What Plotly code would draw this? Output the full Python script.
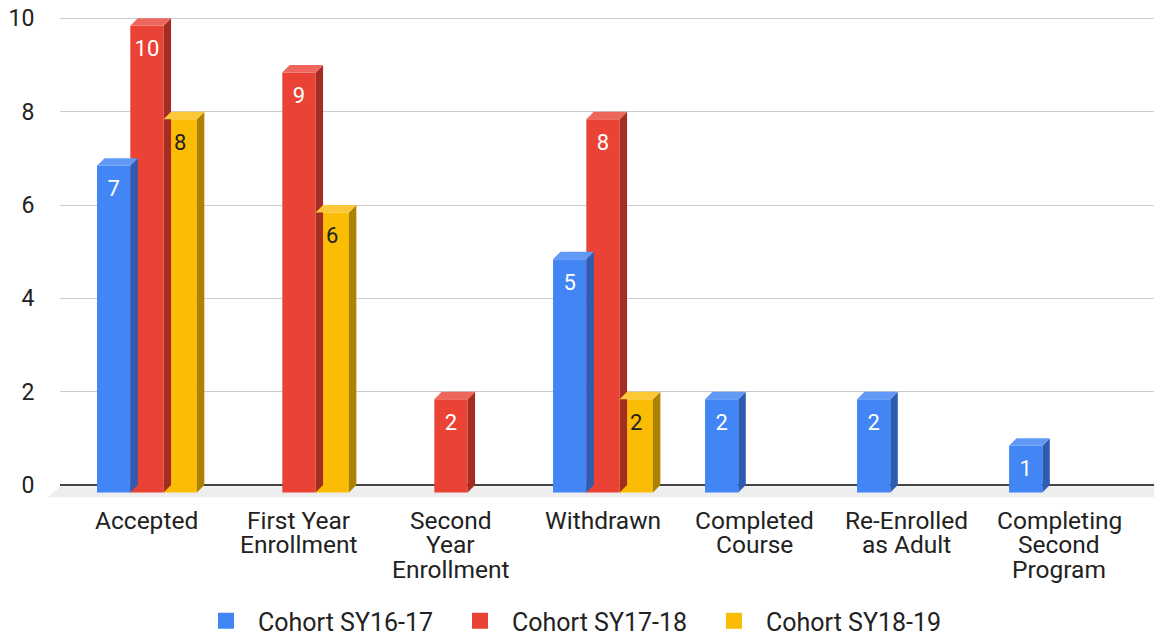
import plotly.graph_objects as go

# ---------------- data ----------------
categories = ["Accepted", "First Year\nEnrollment", "Second\nYear\nEnrollment", "Withdrawn",
              "Completed\nCourse", "Re-Enrolled\nas Adult", "Completing\nSecond\nProgram"]
series_names = ["Cohort SY16-17", "Cohort SY17-18", "Cohort SY18-19"]
sy16_17 = [7, None, None, 5, 2, 2, 1]
sy17_18 = [10, 9, 2, 8, None, None, None]
sy18_19 = [8, 6, None, 2, None, None, None]
y_ticks = [0, 2, 4, 6, 8, 10]

# ---------------- style ----------------
FONT = "Roboto, Arial, sans-serif"
TXT = "#222222"
front_colors = ["#4285F4", "#EA4335", "#FBBC04"]
top_colors = ["#6199F6", "#EE675D", "#FCC838"]
side_colors = ["#2C5DB3", "#A42C23", "#AE8200"]
label_colors = ["#FFFFFF", "#FFFFFF", "#222222"]

BAR_W = 0.219   # bar width in category units
DX = 0.049      # 3D depth (x, category units)
DY = 0.16       # 3D depth (y, value units)
FLOOR = 0.26
LABEL_DROP = 0.535

series_values = [sy16_17, sy17_18, sy18_19]

fig = go.Figure()

# side and top faces
for s, vals in enumerate(series_values):
    sx, sy, tx, ty = [], [], [], []
    for i, v in enumerate(vals):
        if v is None:
            continue
        c = i + (s - 1) * BAR_W
        L, R = c - BAR_W / 2, c + BAR_W / 2
        sx += [R, R + DX, R + DX, R, R, None]
        sy += [-DY, 0, v, v - DY, -DY, None]
        tx += [L, R, R + DX, L + DX, L, None]
        ty += [v - DY, v - DY, v, v, v - DY, None]
    fig.add_trace(go.Scatter(x=sx, y=sy, mode="lines", fill="toself", fillcolor=side_colors[s],
                             line=dict(width=0, color=side_colors[s]), showlegend=False, hoverinfo="skip"))
    fig.add_trace(go.Scatter(x=tx, y=ty, mode="lines", fill="toself", fillcolor=top_colors[s],
                             line=dict(width=0, color=top_colors[s]), showlegend=False, hoverinfo="skip"))

# front faces
for s, vals in enumerate(series_values):
    xs = [i + (s - 1) * BAR_W for i, v in enumerate(vals) if v is not None]
    ys = [v for v in vals if v is not None]
    fig.add_trace(go.Bar(x=xs, y=ys, base=[-DY] * len(ys), width=BAR_W,
                         marker=dict(color=front_colors[s], line=dict(width=0)),
                         showlegend=False, hoverinfo="skip"))

# value labels
for s, vals in enumerate(series_values):
    xs = [i + (s - 1) * BAR_W for i, v in enumerate(vals) if v is not None]
    ys = [v - DY - LABEL_DROP for v in vals if v is not None]
    tt = [str(v) for v in vals if v is not None]
    fig.add_trace(go.Scatter(x=xs, y=ys, mode="text", text=tt, textposition="middle center",
                             textfont=dict(family=FONT, size=22, color=label_colors[s]),
                             showlegend=False, hoverinfo="skip", cliponaxis=False))

# legend entries
for s, name in enumerate(series_names):
    fig.add_trace(go.Scatter(x=[None], y=[None], mode="markers", name=name,
                             marker=dict(symbol="square", size=20, color=front_colors[s])))

# category labels (tight line spacing)
annotations = []
for i, cat in enumerate(categories):
    for k, line in enumerate(cat.split("\n")):
        annotations.append(dict(x=i, xref="x", y=0, yref="paper", yanchor="middle",
                                yshift=-(21 + 24.7 * k), text=line, showarrow=False,
                                font=dict(family=FONT, size=24.5, color=TXT)))

fig.update_layout(
    width=1154, height=635,
    margin=dict(l=60, r=0, t=16, b=136, autoexpand=False),
    paper_bgcolor="white", plot_bgcolor="white",
    barmode="overlay",
    hovermode=False,
    font=dict(family=FONT, size=23, color=TXT),
    xaxis=dict(range=[-0.572, 6.625], showgrid=False, zeroline=False, showticklabels=False,
               showline=False, fixedrange=True),
    yaxis=dict(range=[-0.3, 10.05], tickvals=y_ticks, showgrid=True, gridcolor="#CCCCCC", gridwidth=1,
               zeroline=True, zerolinecolor="#444444", zerolinewidth=2,
               ticks="outside", ticklen=20, tickcolor="rgba(0,0,0,0)",
               tickfont=dict(family=FONT, size=23, color=TXT), showline=False, fixedrange=True),
    shapes=[dict(type="path", xref="paper", yref="y", layer="below",
                 path=f"M 0,-0.03 L 1,-0.03 L 1,{-FLOOR} L -0.011,{-FLOOR} Z",
                 fillcolor="#EEEEEE", line=dict(width=0))],
    annotations=annotations,
    legend=dict(orientation="h", x=0.1225, xanchor="left", y=-0.2526, yanchor="middle",
                entrywidth=185, entrywidthmode="pixels", itemwidth=54,
                font=dict(family=FONT, size=25, color=TXT), bgcolor="rgba(0,0,0,0)"),
)

fig.write_html("out.html", config={"displayModeBar": False},
               post_script="document.body.style.margin='0';document.body.style.padding='0';")
